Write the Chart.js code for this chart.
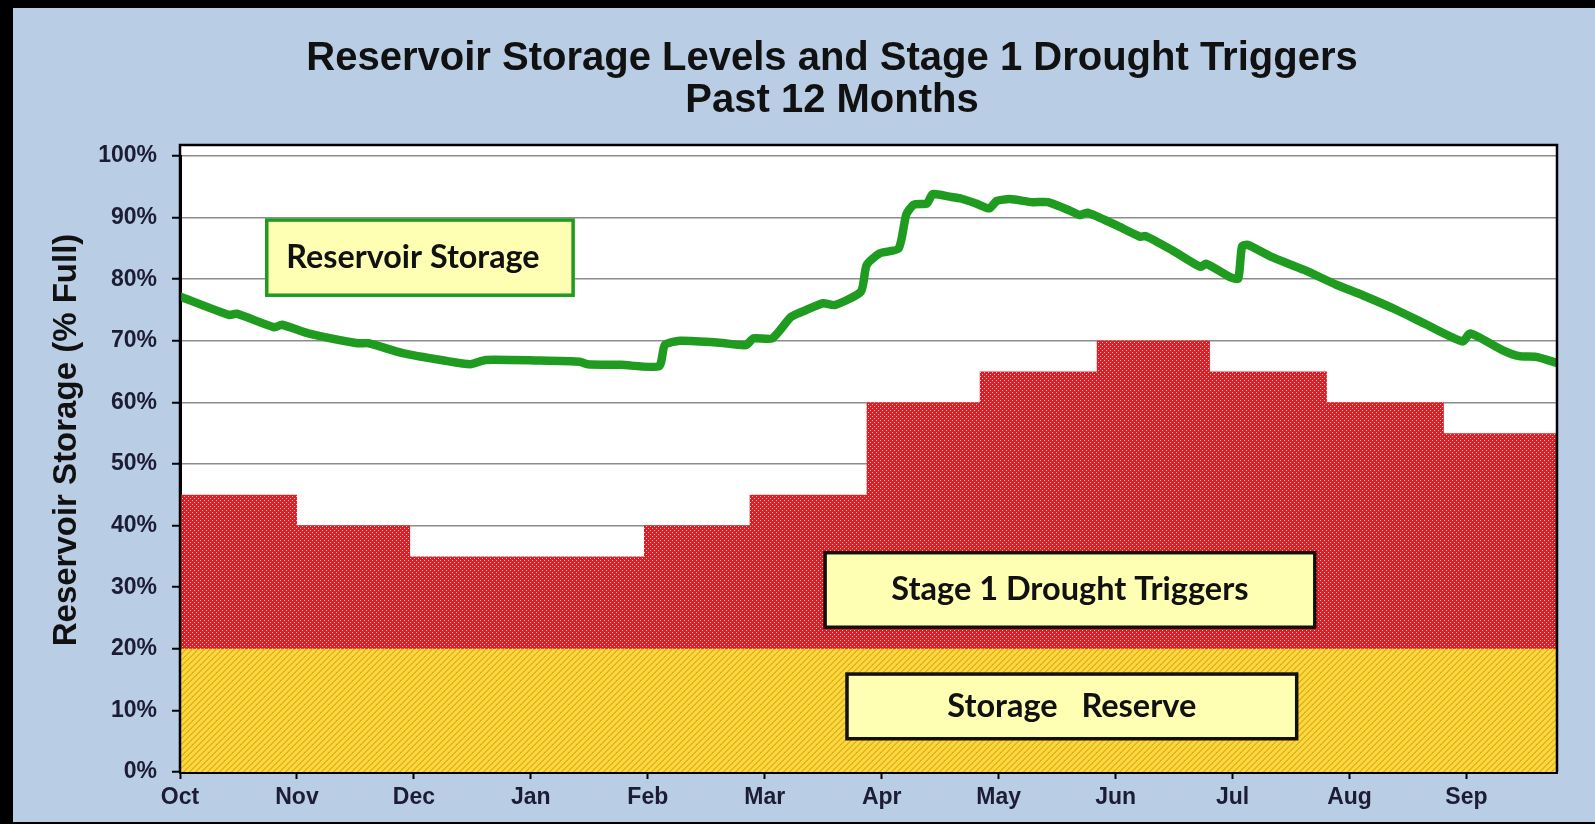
<!DOCTYPE html>
<html>
<head>
<meta charset="utf-8">
<script src="https://cdn.jsdelivr.net/npm/chart.js@4/dist/chart.umd.min.js"></script>
<style>
  html, body { margin: 0; padding: 0; background: #b9cde4; }
  canvas { display: block; }
</style>
</head>
<body>
<canvas id="droughtChart" width="1595" height="824"></canvas>
<script>
// month tick labels, placed every 31 days along the day axis
const monthLabels = ['Oct', 'Nov', 'Dec', 'Jan', 'Feb', 'Mar', 'Apr', 'May', 'Jun', 'Jul', 'Aug', 'Sep'];
const monthTickDays = [0, 31, 62, 93, 124, 155, 186, 217, 248, 279, 310, 341];

// stage 1 drought trigger (% full), changes at each calendar month start
const triggerDays = [0, 31, 61, 92, 123, 151, 182, 212, 243, 273, 304, 335, 365];
const triggerPct = [45, 40, 35, 35, 40, 45, 60, 65, 70, 65, 60, 55, 55];

// storage reserve (% full)
const reserveDays = [0, 365];
const reservePct = [20, 20];

// reservoir storage (% full)
const storageDays = [0, 13, 15, 25, 27, 34, 47, 50, 59, 70, 77, 81, 95, 106, 108, 117, 127, 128.5, 132.5, 143,
  150, 152, 157, 162, 166, 170.5, 173.5, 180.5, 182, 185.5, 190.5, 192.5, 194.5, 198, 199.5, 204, 207, 211,
  214.5, 216.5, 220, 226, 230, 236, 238.5, 240.5, 248, 254.5, 256, 263, 270.5, 272, 278.5, 280.5, 281.5, 283,
  289, 298, 306.5, 313.5, 322.5, 330.5, 340, 342, 350.5, 355, 359.5, 365];
const storagePct = [77.2, 74.2, 74.4, 72.2, 72.6, 71.2, 69.6, 69.6, 68.0, 66.8, 66.2, 66.9, 66.8, 66.6, 66.2,
  66.1, 65.9, 69.3, 70.0, 69.7, 69.3, 70.4, 70.4, 73.9, 75.0, 76.1, 75.8, 78.0, 82.3, 84.2, 85.0, 90.5, 92.1,
  92.3, 93.8, 93.4, 93.1, 92.3, 91.5, 92.7, 93.0, 92.5, 92.5, 91.1, 90.4, 90.8, 88.8, 86.9, 87.0, 84.7, 82.0,
  82.5, 80.3, 80.1, 85.3, 85.6, 83.7, 81.5, 79.1, 77.4, 75.0, 72.6, 69.9, 71.2, 68.5, 67.5, 67.4, 66.4];

const toPoints = (xs, ys) => xs.map((x, i) => ({ x: x, y: ys[i] }));

function dotPattern() {
  const c = document.createElement('canvas');
  c.width = 4; c.height = 4;
  const g = c.getContext('2d');
  g.fillStyle = '#ec1820';
  g.fillRect(0, 0, 4, 4);
  g.fillStyle = '#ffc0c0';
  g.fillRect(0, 0, 1, 1);
  g.fillRect(2, 2, 1, 1);
  return g.createPattern(c, 'repeat');
}

function stripePattern() {
  const c = document.createElement('canvas');
  c.width = 6; c.height = 6;
  const g = c.getContext('2d');
  g.fillStyle = '#f9d846';
  g.fillRect(0, 0, 6, 6);
  g.fillStyle = '#eab412';
  for (let y = 0; y < 6; y++) {
    for (let x = 0; x < 6; x++) {
      if ((x + y) % 6 < 2) g.fillRect(x, y, 1, 1);
    }
  }
  return g.createPattern(c, 'repeat');
}

const FONT = '"Liberation Sans", Arial, sans-serif';
const PLOT_TOP_GAP = 11;

function textBox(ctx, chart, b) {
  const xs = chart.scales.x, ys = chart.scales.y;
  const l = xs.getPixelForValue(b.x0), r = xs.getPixelForValue(b.x1);
  const t = ys.getPixelForValue(b.y1), btm = ys.getPixelForValue(b.y0);
  ctx.save();
  ctx.fillStyle = '#ffffb4';
  ctx.fillRect(l, t, r - l, btm - t);
  ctx.lineWidth = 3.5;
  ctx.strokeStyle = b.border;
  ctx.strokeRect(l, t, r - l, btm - t);
  // size the font so the label spans the same width as in the original
  ctx.font = 'bold 20px Lato, "Open Sans", sans-serif';
  const size = 20 * b.textWidth / ctx.measureText(b.text).width;
  ctx.font = 'bold ' + size.toFixed(1) + 'px Lato, "Open Sans", sans-serif';
  ctx.fillStyle = '#111';
  ctx.textAlign = 'center';
  ctx.textBaseline = 'middle';
  ctx.fillText(b.text, (l + r) / 2 + b.dx, (t + btm) / 2);
  ctx.restore();
}

const boxes = [
  { text: 'Reservoir Storage', x0: 23, x1: 104.2, y0: 77.4, y1: 89.6, border: '#1f9b1f', textWidth: 253, dx: -7 },
  { text: 'Stage 1 Drought Triggers', x0: 171, x1: 300.8, y0: 23.5, y1: 35.6, border: '#111', textWidth: 357, dx: 0 },
  { text: 'Storage   Reserve', x0: 176.8, x1: 296, y0: 5.4, y1: 15.9, border: '#111', textWidth: 249, dx: 0 }
];

const decor = {
  id: 'decor',
  beforeDraw(chart) {
    const ctx = chart.ctx, a = chart.chartArea;
    ctx.save();
    ctx.fillStyle = '#b9cde4';
    ctx.fillRect(0, 0, chart.width, chart.height);
    ctx.fillStyle = '#000';
    ctx.fillRect(0, 0, 13, chart.height);
    ctx.fillRect(0, 0, chart.width, 8);
    ctx.fillRect(0, chart.height - 2, chart.width, 2);
    ctx.fillStyle = '#fff';
    ctx.fillRect(a.left, a.top - PLOT_TOP_GAP, a.right - a.left, a.bottom - a.top + PLOT_TOP_GAP);
    ctx.restore();
  },
  afterDatasetsDraw(chart) {
    boxes.forEach(b => textBox(chart.ctx, chart, b));
  },
  afterDraw(chart) {
    const ctx = chart.ctx, a = chart.chartArea;
    ctx.save();
    ctx.strokeStyle = '#000';
    ctx.lineWidth = 2.5;
    ctx.beginPath();
    ctx.moveTo(a.left, a.bottom);
    ctx.lineTo(a.left, a.top - PLOT_TOP_GAP);
    ctx.lineTo(a.right, a.top - PLOT_TOP_GAP);
    ctx.lineTo(a.right, a.bottom);
    ctx.stroke();

    ctx.fillStyle = '#111';
    ctx.textAlign = 'center';
    ctx.textBaseline = 'middle';
    ctx.font = 'bold 40px ' + FONT;
    ctx.fillText('Reservoir Storage Levels and Stage 1 Drought Triggers', 832, 59);
    ctx.fillText('Past 12 Months', 832, 101);

    ctx.translate(67, 440);
    ctx.rotate(-Math.PI / 2);
    ctx.font = 'bold 33px ' + FONT;
    ctx.fillText('Reservoir Storage (% Full)', 0, 0);
    ctx.restore();
  }
};

const canvas = document.getElementById('droughtChart');
const ctx = canvas.getContext('2d');
new Chart(ctx, {
  type: 'line',
  data: {
    datasets: [
      {
        label: 'Reservoir Storage',
        data: toPoints(storageDays, storagePct),
        borderColor: '#1f9b1f',
        borderWidth: 8.5,
        borderJoinStyle: 'round',
        borderCapStyle: 'round',
        tension: 0.2,
        pointRadius: 0,
        fill: false,
        order: 0
      },
      {
        label: 'Stage 1 Drought Triggers',
        data: toPoints(triggerDays, triggerPct),
        stepped: true,
        borderWidth: 0,
        borderColor: 'rgba(0,0,0,0)',
        backgroundColor: dotPattern(),
        pointRadius: 0,
        fill: 'origin',
        order: 2
      },
      {
        label: 'Storage Reserve',
        data: toPoints(reserveDays, reservePct),
        borderWidth: 0,
        borderColor: 'rgba(0,0,0,0)',
        backgroundColor: stripePattern(),
        pointRadius: 0,
        fill: 'origin',
        order: 1
      }
    ]
  },
  options: {
    responsive: false,
    animation: false,
    layout: { padding: { top: 156, right: 38, left: 0, bottom: 0 } },
    plugins: {
      legend: { display: false },
      tooltip: { enabled: false }
    },
    scales: {
      x: {
        type: 'linear',
        min: 0,
        max: 365,
        afterFit: scale => { scale.height = 52; },
        afterBuildTicks: scale => { scale.ticks = monthTickDays.map(v => ({ value: v })); },
        grid: { drawOnChartArea: false, drawTicks: true, tickLength: 7, tickColor: '#000', tickWidth: 2 },
        border: { color: '#000', width: 3 },
        ticks: {
          autoSkip: false,
          maxRotation: 0,
          padding: 5,
          color: '#1c1c34',
          font: { family: FONT, size: 23, weight: 'bold' },
          callback: (v, i) => monthLabels[i]
        }
      },
      y: {
        min: 0,
        max: 100,
        afterFit: scale => { scale.width = 180; },
        grid: { color: '#8c8c8c', lineWidth: 1.5, tickLength: 8, tickColor: '#000', tickWidth: 2 },
        border: { color: '#000', width: 3 },
        ticks: {
          stepSize: 10,
          padding: 15,
          color: '#1c1c34',
          font: { family: FONT, size: 23, weight: 'bold' },
          callback: v => v + '%'
        }
      }
    }
  },
  plugins: [decor]
});
</script>
</body>
</html>
